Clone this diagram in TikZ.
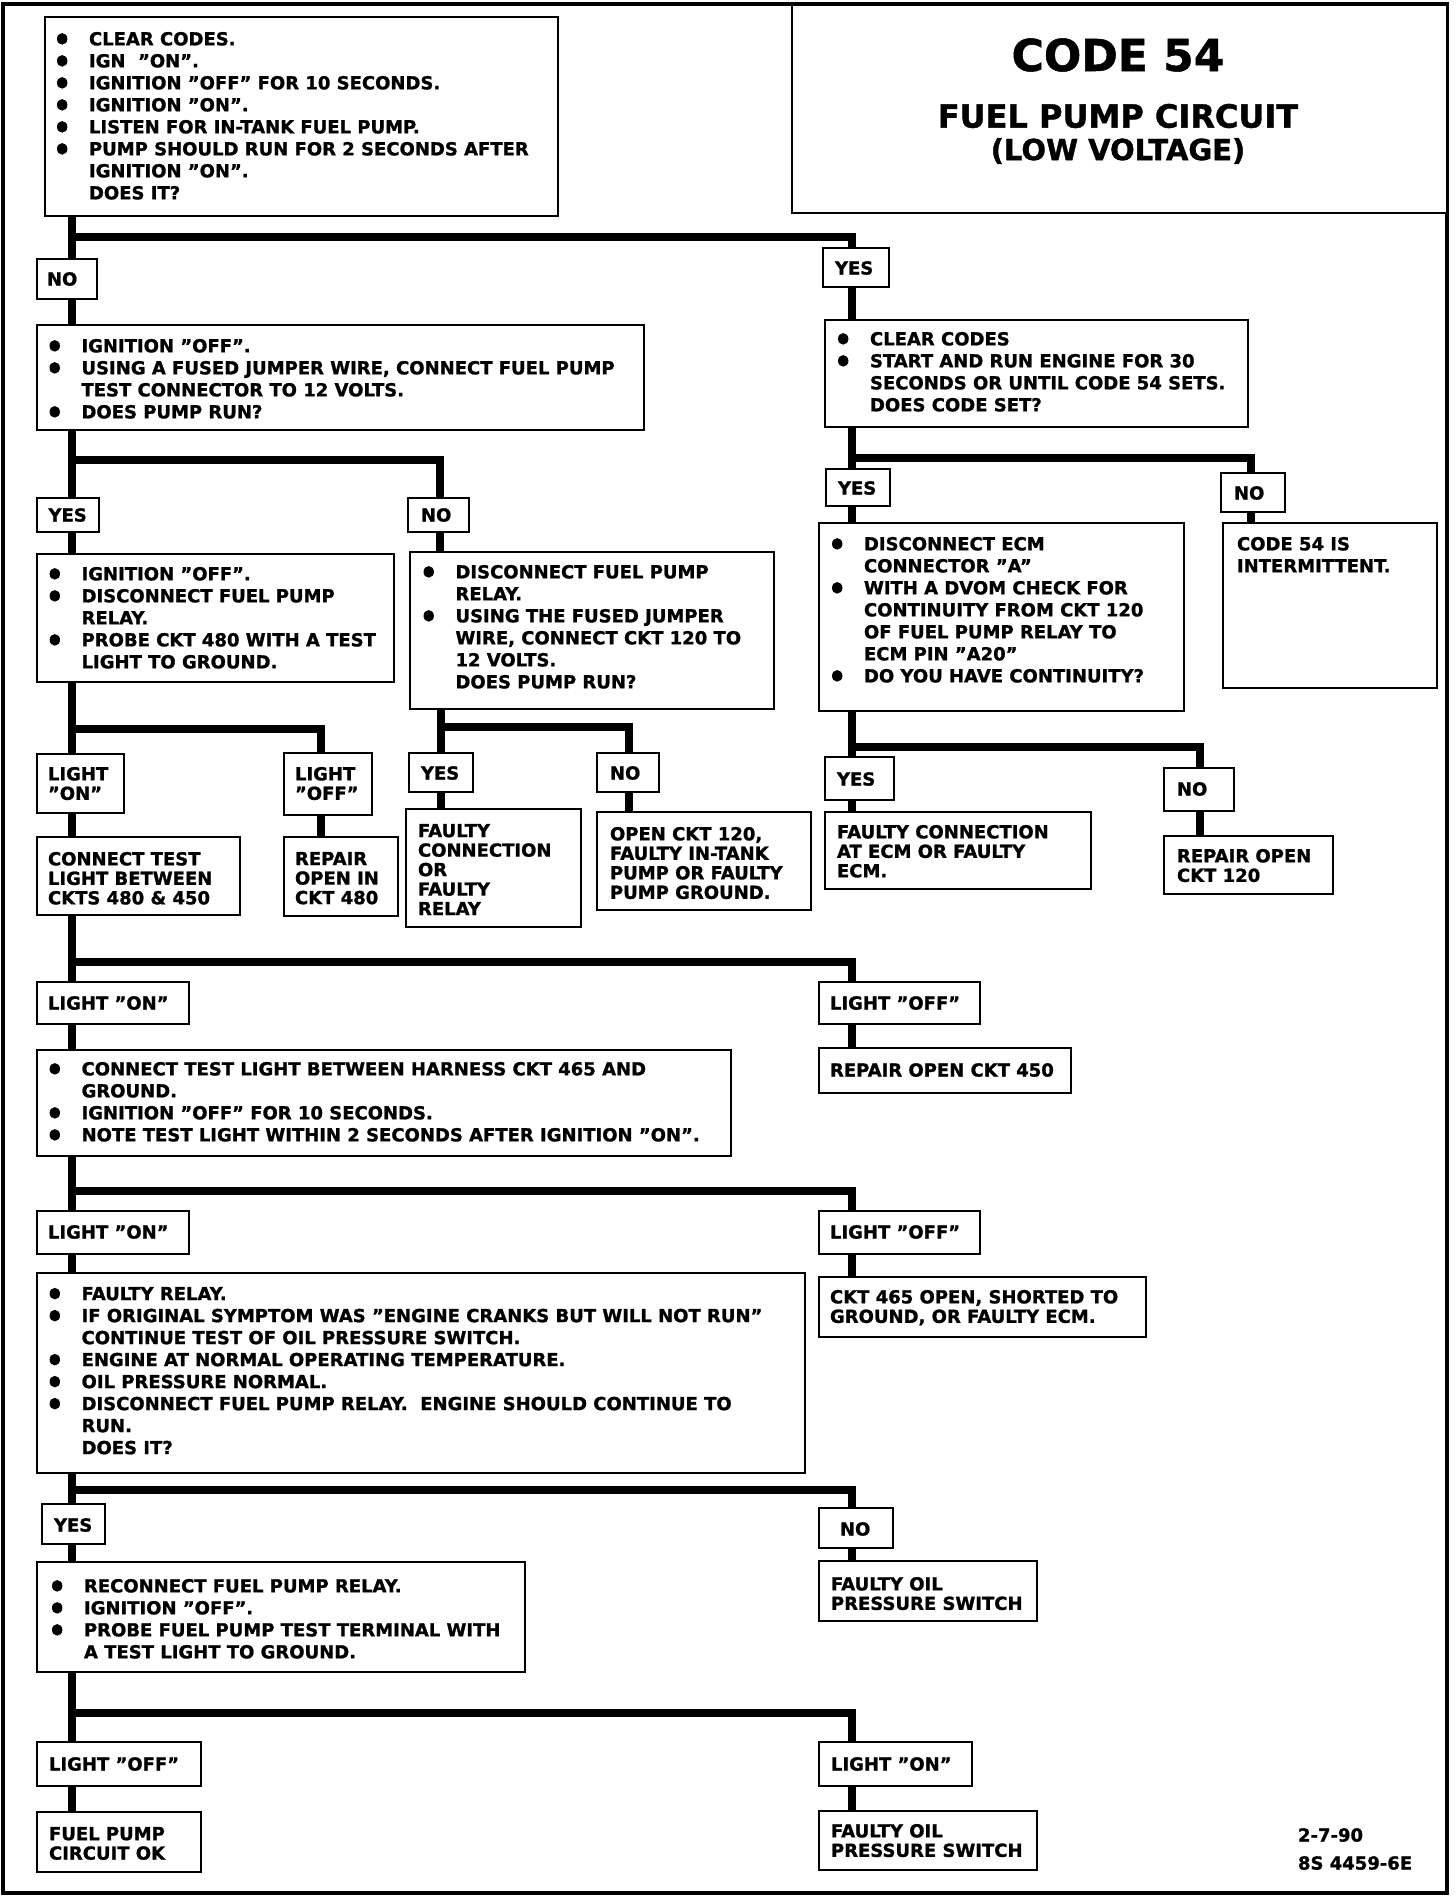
\documentclass[tikz,border=0pt]{standalone}
\usepackage{fontspec}
\setmainfont{DejaVu Sans}[BoldFeatures={FakeBold=1.2}]
\usetikzlibrary{fit}
\newcommand\bodyf{\fontsize{18}{22}\selectfont\bfseries}
\newcommand\lblf{\fontsize{18}{19.5}\selectfont\bfseries}
\newcommand\bul{\makebox[32pt][l]{\tikz[x=1pt,y=1pt,baseline=0pt]\fill (5pt,6.5pt) ellipse[x radius=5.2pt,y radius=5.8pt];}}
\newcommand\ind{\hspace*{32pt}}
\begin{document}
\begin{tikzpicture}[x=1pt,y=-1pt,
  bx/.style={draw,line width=2.5pt,fill=white,inner sep=0pt,outer sep=0pt},
  conn/.style={line width=7.5pt,line join=miter},
  txt/.style={inner sep=0pt,outer sep=0pt,align=left,anchor=north west,font=\bodyf},
  lt/.style={inner sep=0pt,outer sep=0pt,align=left,anchor=north west,font=\lblf},
  lbl/.style={inner sep=0pt,outer sep=0pt,anchor=west,font=\lblf}]
\useasboundingbox (0,0) rectangle (1456,1898);
\draw[line width=4pt] (3,4) rectangle (1447,1893);

% branch x positions and junction y positions
\coordinate (xL) at (72,0);
\coordinate (xR) at (852,0);
\coordinate (x2) at (440,0);
\coordinate (x4) at (321,0);
\coordinate (x5) at (441,0);
\coordinate (x6) at (629,0);
\coordinate (x7) at (1251,0);
\coordinate (x8) at (1200,0);
\coordinate (j1) at (0,237);
\coordinate (j2) at (0,460);
\coordinate (j3) at (0,458);
\coordinate (j4) at (0,729);
\coordinate (j5) at (0,727);
\coordinate (j6) at (0,747);
\coordinate (j7) at (0,962);
\coordinate (j8) at (0,1191);
\coordinate (j9) at (0,1490);
\coordinate (j10) at (0,1713);

% ---------- boxes ----------
\node[bx,fit={(45,17)(558,216)}] (top) {};
\node[bx,fit={(792,5)(1447,213)}] (title) {};
\node[bx,fit={(37,259)(97,299)}] (no1) {};
\node[bx,fit={(37,325)(644,430)}] (box2) {};
\node[bx,fit={(823,248)(889,287)}] (yes1) {};
\node[bx,fit={(825,320)(1248,427)}] (r1) {};
\node[bx,fit={(826,469)(890,506)}] (yes3) {};
\node[bx,fit={(1221,473)(1285,512)}] (no3) {};
\node[bx,fit={(819,523)(1184,711)}] (r2) {};
\node[bx,fit={(1223,523)(1437,688)}] (r3) {};
\node[bx,fit={(37,498)(99,532)}] (yes2) {};
\node[bx,fit={(408,498)(469,532)}] (no2) {};
\node[bx,fit={(37,554)(394,682)}] (l1) {};
\node[bx,fit={(410,552)(774,709)}] (m1) {};
\node[bx,fit={(37,754)(124,813)}] (lon1) {};
\node[bx,fit={(284,753)(372,815)}] (loff1) {};
\node[bx,fit={(37,837)(240,915)}] (ct) {};
\node[bx,fit={(284,837)(398,916)}] (rep480) {};
\node[bx,fit={(409,753)(473,792)}] (yes5) {};
\node[bx,fit={(597,753)(659,792)}] (no5) {};
\node[bx,fit={(406,809)(581,927)}] (fcr) {};
\node[bx,fit={(597,812)(811,910)}] (open120) {};
\node[bx,fit={(825,757)(894,800)}] (yes4) {};
\node[bx,fit={(1164,768)(1234,811)}] (no4) {};
\node[bx,fit={(825,812)(1091,889)}] (fecm) {};
\node[bx,fit={(1164,836)(1333,894)}] (rep120) {};
\node[bx,fit={(37,982)(189,1024)}] (lon2) {};
\node[bx,fit={(819,982)(980,1024)}] (loff2) {};
\node[bx,fit={(819,1048)(1071,1093)}] (rep450) {};
\node[bx,fit={(37,1050)(731,1156)}] (c1) {};
\node[bx,fit={(37,1211)(189,1254)}] (lon3) {};
\node[bx,fit={(819,1211)(980,1254)}] (loff3) {};
\node[bx,fit={(37,1273)(805,1473)}] (c2) {};
\node[bx,fit={(819,1277)(1146,1337)}] (ckt465) {};
\node[bx,fit={(42,1504)(105,1544)}] (yes6) {};
\node[bx,fit={(819,1508)(893,1548)}] (no6) {};
\node[bx,fit={(37,1562)(525,1672)}] (c3) {};
\node[bx,fit={(819,1561)(1037,1621)}] (foil1) {};
\node[bx,fit={(37,1742)(201,1786)}] (loff4) {};
\node[bx,fit={(819,1742)(972,1786)}] (lon4) {};
\node[bx,fit={(37,1812)(201,1872)}] (fpok) {};
\node[bx,fit={(819,1811)(1037,1870)}] (foil2) {};

% ---------- texts ----------
\node[txt] (top-t) at (57,32) {\bul CLEAR CODES.\\
\bul IGN\ \ "ON".\\
\bul IGNITION "OFF" FOR 10 SECONDS.\\
\bul IGNITION "ON".\\
\bul LISTEN FOR IN-TANK FUEL PUMP.\\
\bul PUMP SHOULD RUN FOR 2 SECONDS AFTER\\
\ind IGNITION "ON".\\
\ind DOES IT?};
\node[inner sep=0pt,font=\fontsize{44}{44}\selectfont\bfseries] (title-a) at (1118,55) {CODE 54};
\node[inner sep=0pt,font=\fontsize{32}{32}\selectfont\bfseries] (title-b) at (1118,116) {FUEL PUMP CIRCUIT};
\node[inner sep=0pt,font=\fontsize{29}{29}\selectfont\bfseries] (title-c) at (1118,151) {(LOW VOLTAGE)};
\node[lbl] (no1-t) at (47,279) {NO};
\node[txt] (box2-t) at (49.5,339) {\bul IGNITION "OFF".\\
\bul USING A FUSED JUMPER WIRE, CONNECT FUEL PUMP\\
\ind TEST CONNECTOR TO 12 VOLTS.\\
\bul DOES PUMP RUN?};
\node[lbl] (yes1-t) at (835,268) {YES};
\node[txt] (r1-t) at (838,332) {\bul CLEAR CODES\\
\bul START AND RUN ENGINE FOR 30\\
\ind SECONDS OR UNTIL CODE 54 SETS.\\
\ind DOES CODE SET?};
\node[lbl] (yes3-t) at (838,488) {YES};
\node[lbl] (no3-t) at (1234,493) {NO};
\node[txt] (r2-t) at (832,537) {\bul DISCONNECT ECM\\
\ind CONNECTOR "A"\\
\bul WITH A DVOM CHECK FOR\\
\ind CONTINUITY FROM CKT 120\\
\ind OF FUEL PUMP RELAY TO\\
\ind ECM PIN "A20"\\
\bul DO YOU HAVE CONTINUITY?};
\node[txt] (r3-t) at (1237,537) {CODE 54 IS\\INTERMITTENT.};
\node[lbl] (yes2-t) at (48.5,515) {YES};
\node[lbl] (no2-t) at (421,515) {NO};
\node[txt] (l1-t) at (49.6,567) {\bul IGNITION "OFF".\\
\bul DISCONNECT FUEL PUMP\\
\ind RELAY.\\
\bul PROBE CKT 480 WITH A TEST\\
\ind LIGHT TO GROUND.};
\node[txt] (m1-t) at (423.5,565) {\bul DISCONNECT FUEL PUMP\\
\ind RELAY.\\
\bul USING THE FUSED JUMPER\\
\ind WIRE, CONNECT CKT 120 TO\\
\ind 12 VOLTS.\\
\ind DOES PUMP RUN?};
\node[lt] (lon1-t) at (48,767) {LIGHT\\"ON"};
\node[lt] (loff1-t) at (295,767) {LIGHT\\"OFF"};
\node[lt] (ct-t) at (48,852) {CONNECT TEST\\LIGHT BETWEEN\\CKTS 480 \& 450};
\node[lt] (rep480-t) at (295,852) {REPAIR\\OPEN IN\\CKT 480};
\node[lbl] (yes5-t) at (421,773) {YES};
\node[lbl] (no5-t) at (610,773) {NO};
\node[lt] (fcr-t) at (418,824) {FAULTY\\CONNECTION\\OR\\FAULTY\\RELAY};
\node[lt] (open120-t) at (610,827) {OPEN CKT 120,\\FAULTY IN-TANK\\PUMP OR FAULTY\\PUMP GROUND.};
\node[lbl] (yes4-t) at (837,779) {YES};
\node[lbl] (no4-t) at (1177,789) {NO};
\node[lt] (fecm-t) at (837,825) {FAULTY CONNECTION\\AT ECM OR FAULTY\\ECM.};
\node[lt] (rep120-t) at (1177,849) {REPAIR OPEN\\CKT 120};
\node[lbl] (lon2-t) at (48,1003) {LIGHT "ON"};
\node[lbl] (loff2-t) at (830,1003) {LIGHT "OFF"};
\node[lbl] (rep450-t) at (830,1070) {REPAIR OPEN CKT 450};
\node[txt] (c1-t) at (49.6,1062) {\bul CONNECT TEST LIGHT BETWEEN HARNESS CKT 465 AND\\
\ind GROUND.\\
\bul IGNITION "OFF" FOR 10 SECONDS.\\
\bul NOTE TEST LIGHT WITHIN 2 SECONDS AFTER IGNITION "ON".};
\node[lbl] (lon3-t) at (48,1232) {LIGHT "ON"};
\node[lbl] (loff3-t) at (830,1232) {LIGHT "OFF"};
\node[txt] (c2-t) at (49.6,1287) {\bul FAULTY RELAY.\\
\bul IF ORIGINAL SYMPTOM WAS "ENGINE CRANKS BUT WILL NOT RUN"\\
\ind CONTINUE TEST OF OIL PRESSURE SWITCH.\\
\bul ENGINE AT NORMAL OPERATING TEMPERATURE.\\
\bul OIL PRESSURE NORMAL.\\
\bul DISCONNECT FUEL PUMP RELAY.\ \ ENGINE SHOULD CONTINUE TO\\
\ind RUN.\\
\ind DOES IT?};
\node[lt] (ckt465-t) at (830,1290) {CKT 465 OPEN, SHORTED TO\\GROUND, OR FAULTY ECM.};
\node[lbl] (yes6-t) at (54,1525) {YES};
\node[lbl] (no6-t) at (840,1529) {NO};
\node[txt] (c3-t) at (52,1579) {\bul RECONNECT FUEL PUMP RELAY.\\
\bul IGNITION "OFF".\\
\bul PROBE FUEL PUMP TEST TERMINAL WITH\\
\ind A TEST LIGHT TO GROUND.};
\node[lt] (foil1-t) at (831,1577) {FAULTY OIL\\PRESSURE SWITCH};
\node[lbl] (loff4-t) at (49,1764) {LIGHT "OFF"};
\node[lbl] (lon4-t) at (831,1764) {LIGHT "ON"};
\node[lt] (fpok-t) at (49,1827) {FUEL PUMP\\CIRCUIT OK};
\node[lt] (foil2-t) at (831,1824) {FAULTY OIL\\PRESSURE SWITCH};
\node[lbl] (date) at (1298,1835) {2-7-90};
\node[lbl] (figno) at (1298,1863) {8S 4459-6E};

% ---------- connectors ----------
\draw[conn] (top.south -| xL) -- (no1.north -| xL);
\draw[conn] (xL |- j1) -| (yes1.north -| xR);
\draw[conn] (no1.south -| xL) -- (box2.north -| xL);
\draw[conn] (yes1.south -| xR) -- (r1.north -| xR);
\draw[conn] (box2.south -| xL) -- (yes2.north -| xL);
\draw[conn] (xL |- j2) -| (no2.north -| x2);
\draw[conn] (yes2.south -| xL) -- (l1.north -| xL);
\draw[conn] (no2.south -| x2) -- (m1.north -| x2);
\draw[conn] (r1.south -| xR) -- (yes3.north -| xR);
\draw[conn] (xR |- j3) -| (no3.north -| x7);
\draw[conn] (yes3.south -| xR) -- (r2.north -| xR);
\draw[conn] (no3.south -| x7) -- (r3.north -| x7);
\draw[conn] (r2.south -| xR) -- (yes4.north -| xR);
\draw[conn] (xR |- j6) -| (no4.north -| x8);
\draw[conn] (yes4.south -| xR) -- (fecm.north -| xR);
\draw[conn] (no4.south -| x8) -- (rep120.north -| x8);
\draw[conn] (l1.south -| xL) -- (lon1.north -| xL);
\draw[conn] (xL |- j4) -| (loff1.north -| x4);
\draw[conn] (lon1.south -| xL) -- (ct.north -| xL);
\draw[conn] (loff1.south -| x4) -- (rep480.north -| x4);
\draw[conn] (m1.south -| x5) -- (yes5.north -| x5);
\draw[conn] (x5 |- j5) -| (no5.north -| x6);
\draw[conn] (yes5.south -| x5) -- (fcr.north -| x5);
\draw[conn] (no5.south -| x6) -- (open120.north -| x6);
\draw[conn] (ct.south -| xL) -- (lon2.north -| xL);
\draw[conn] (xL |- j7) -| (loff2.north -| xR);
\draw[conn] (lon2.south -| xL) -- (c1.north -| xL);
\draw[conn] (loff2.south -| xR) -- (rep450.north -| xR);
\draw[conn] (c1.south -| xL) -- (lon3.north -| xL);
\draw[conn] (xL |- j8) -| (loff3.north -| xR);
\draw[conn] (lon3.south -| xL) -- (c2.north -| xL);
\draw[conn] (loff3.south -| xR) -- (ckt465.north -| xR);
\draw[conn] (c2.south -| xL) -- (yes6.north -| xL);
\draw[conn] (xL |- j9) -| (no6.north -| xR);
\draw[conn] (yes6.south -| xL) -- (c3.north -| xL);
\draw[conn] (no6.south -| xR) -- (foil1.north -| xR);
\draw[conn] (c3.south -| xL) -- (loff4.north -| xL);
\draw[conn] (xL |- j10) -| (lon4.north -| xR);
\draw[conn] (loff4.south -| xL) -- (fpok.north -| xL);
\draw[conn] (lon4.south -| xR) -- (foil2.north -| xR);
\end{tikzpicture}
\end{document}
